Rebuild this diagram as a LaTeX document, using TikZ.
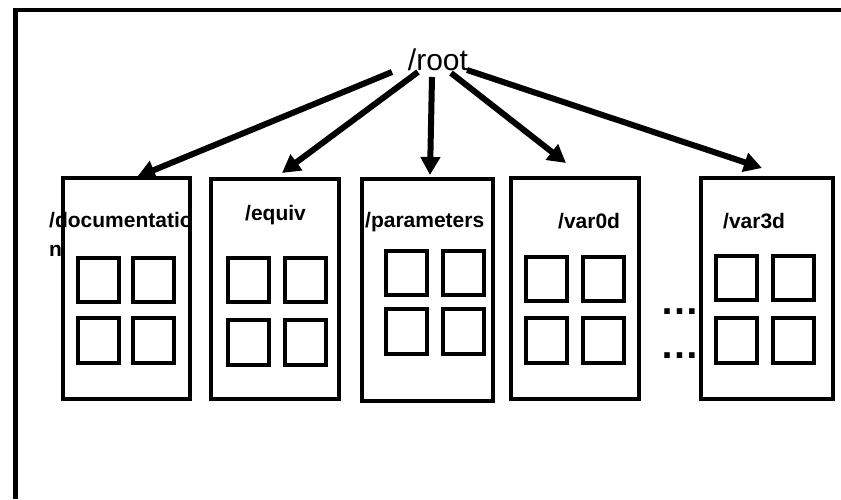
\documentclass[tikz,border=0pt]{standalone}
\usepackage{fontspec}
\setmainfont{Liberation Sans}
\usetikzlibrary{arrows.meta}
\begin{document}
\begin{tikzpicture}[x=1pt,y=-1pt,
  frame/.style={line width=4.5pt},
  group/.style={draw,line width=4pt,rectangle,inner sep=0pt,anchor=north west},
  cell/.style={draw,line width=4pt,rectangle,inner sep=0pt,anchor=north west},
  grouplabel/.style={inner sep=0pt,anchor=base west,font=\fontsize{21}{27}\selectfont\bfseries},
  link/.style={line width=6pt,-{Triangle[length=18pt,width=19pt]}},
  more/.style={inner sep=0pt,anchor=base west,font=\fontsize{39}{39}\selectfont\bfseries}]
\useasboundingbox (0,0) rectangle (841,499);
\fill[white] (0,0) rectangle (841,499);
% outer frame (runs off the page on the right and bottom)
\draw[frame] (15.5,499) -- (15.5,10) -- (841,10);

% root
\node[inner sep=0pt,anchor=base,font=\fontsize{30}{30}\selectfont] (root) at (438,70) {/root};

% groups: name, corner, size
\foreach \n/\x/\y/\w/\h in {b1/61/176/127/221, b2/209/177/128/220, b3/360/177/131/222, b4/509/176/128/221, b5/699/176/132/221}
  \node[group,minimum width=\w pt,minimum height=\h pt] (\n) at (\x,\y) {};

% 2x2 cells inside each group: group, left column x, right column x, top row y, bottom row y
\foreach \g/\xa/\xb/\ya/\yb in {b1/76/131/256/316, b2/226/283/256/318, b3/384/441/249/307, b4/524/581/255/316, b5/714/771/254/316}{
  \node[cell,minimum width=41pt,minimum height=44pt] (\g-11) at (\xa,\ya) {};
  \node[cell,minimum width=41pt,minimum height=44pt] (\g-12) at (\xb,\ya) {};
  \node[cell,minimum width=41pt,minimum height=45pt] (\g-21) at (\xa,\yb) {};
  \node[cell,minimum width=41pt,minimum height=45pt] (\g-22) at (\xb,\yb) {};
}

% group labels (the long name wraps onto a second line)
\node[grouplabel] (l1) at (49,227) {/documentatio};
\node[grouplabel] (l1b) at (49,256) {n};
\node[grouplabel] (l2) at (245,220) {/equiv};
\node[grouplabel] (l3) at (365,227) {/parameters};
\node[grouplabel] (l4) at (558,228) {/var0d};
\node[grouplabel] (l5) at (723,228) {/var3d};

% ellipses between the groups
\node[more] (m1) at (660,314) {…};
\node[more] (m2) at (660,358) {…};

% arrows from the root to each group
\coordinate (s1) at (392,72);
\coordinate (s2) at (418,72);
\coordinate (s3) at (432,77);
\coordinate (s4) at (451,73);
\coordinate (s5) at (467,70);
\coordinate (t1) at (137,177);
\coordinate (t2) at (282,173);
\coordinate (t3) at (430,175);
\coordinate (t4) at (566,163);
\coordinate (t5) at (762,168);
\foreach \i in {1,...,5}
  \draw[link] (s\i) -- (t\i);
\end{tikzpicture}
\end{document}
